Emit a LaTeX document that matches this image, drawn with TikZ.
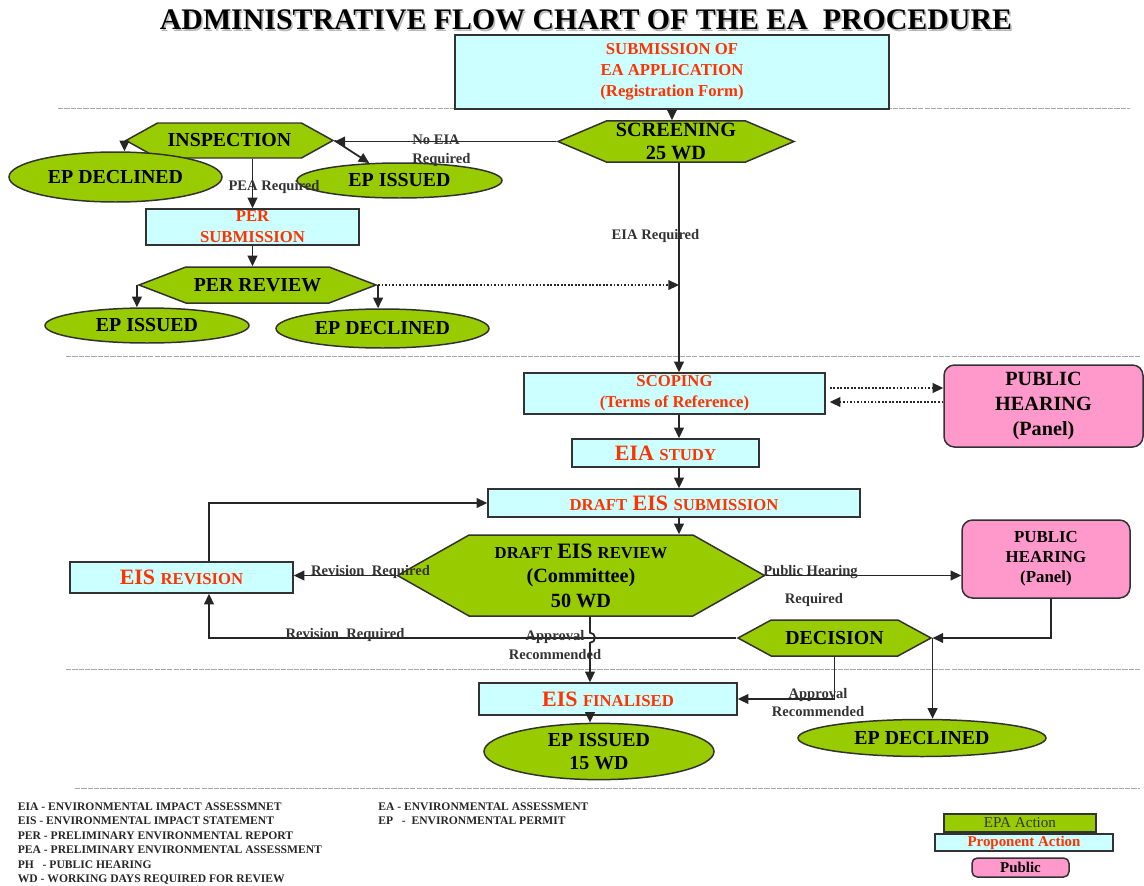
\documentclass[tikz,border=0pt]{standalone}
\usepackage{fontspec}
\setmainfont{Liberation Serif}
\usetikzlibrary{shapes.geometric, shapes.symbols, arrows.meta, calc}

\definecolor{epagreen}{RGB}{153,204,0}
\definecolor{propcyan}{RGB}{204,255,255}
\definecolor{pubpink}{RGB}{255,153,204}
\definecolor{propred}{RGB}{255,51,0}
\definecolor{edgegray}{RGB}{50,50,50}

\newcommand{\fsz}[2]{\fontsize{#1}{#2}\selectfont}
\newcommand{\sml}[1]{{\fontsize{9.5}{11}\selectfont #1}}

\tikzset{
    basebox/.style={draw=edgegray, line width=0.85pt, font=\bfseries\fsz{11.3}{13}, inner sep=1pt, align=center},
    epabox/.style={basebox, fill=epagreen},
    propbox/.style={basebox, fill=propcyan, text=propred, font=\bfseries\fsz{12.5}{14}},
    pubbox/.style={basebox, fill=pubpink, rounded corners=6pt},
    hexa/.style={epabox, shape=signal, signal to=east and west},
    endnode/.style={epabox, ellipse},
    wh/.style 2 args={minimum width=#1*0.02cm, minimum height=#2*0.02cm},
    arr/.style={line width=1pt, draw=black!85, -{Triangle[length=6pt, width=5.5pt]}},
    dotarr/.style={arr, densely dotted},
    lbl/.style={font=\bfseries\fsz{8.3}{10.8}, text=black!80, inner sep=0pt, align=center},
    sep/.style={draw=gray!70, line width=0.5pt, dash pattern=on 3pt off 0.6pt},
    titlefont/.style={font=\bfseries\fsz{17}{20}, inner sep=0pt}
}

\begin{document}
\begin{tikzpicture}[x=0.02cm, y=-0.02cm]
\useasboundingbox (0,0) rectangle (1144,886);

% dashed separators
\draw[sep] (58,108) -- (1130,108);
\draw[sep] (66,356) -- (1140,356);
\draw[sep] (66,669) -- (1140,669);
\draw[sep] (75,788) -- (1140,788);

% title
\node[titlefont, text=gray!55] (titleshadow) at (587.5,21.5) {ADMINISTRATIVE FLOW CHART OF THE EA\ \ PROCEDURE};
\node[titlefont] (title) at (586,20) {ADMINISTRATIVE FLOW CHART OF THE EA\ \ PROCEDURE};

\coordinate (spine) at (679,0);
\coordinate (loop) at (209,0);
\coordinate (appr) at (590,0);

% screening stage
\node[propbox, wh={434}{74}, font=\bfseries\fsz{9.5}{12}] (submit) at (672,72) {SUBMISSION OF\\EA APPLICATION\\(Registration Form)};
\node[hexa, wh={236}{40}, signal pointer angle=46, font=\bfseries\fsz{11.5}{13.6}] (screen) at (676,141.5) {SCREENING\\25 WD};
\node[hexa, wh={207}{35}, signal pointer angle=58] (insp) at (229.5,140.5) {INSPECTION};
\node[endnode, wh={213}{50}] (epdecA) at (115.5,177) {EP DECLINED};
\node[endnode, wh={205}{35}] (epissA) at (399.5,180.5) {EP ISSUED};
\node[propbox, wh={213}{36}, font=\bfseries\fsz{9.5}{12}] (persub) at (252.5,227) {PER\\SUBMISSION};
\node[hexa, wh={237}{36}, signal pointer angle=42] (perrev) at (257.5,285) {PER REVIEW};
\node[endnode, wh={204}{35}] (epissB) at (147,325.5) {EP ISSUED};
\node[endnode, wh={213}{39}] (epdecB) at (382.5,328.5) {EP DECLINED};

% EIA stage
\node[propbox, wh={301}{41}, font=\bfseries\fsz{9.5}{12}] (scoping) at (674.5,393.5) {SCOPING\\(Terms of Reference)};
\node[pubbox, wh={199}{82}, font=\bfseries\fsz{11.5}{14.2}] (phA) at (1043.5,406) {PUBLIC\\HEARING\\(Panel)};
\node[propbox, wh={187}{28}] (eiastudy) at (665.5,453) {EIA \sml{STUDY}};
\node[propbox, wh={372}{28}] (draftsub) at (674,503) {\sml{DRAFT} EIS \sml{SUBMISSION}};
\node[hexa, wh={367}{81}, signal pointer angle=59, font=\bfseries\fsz{11.5}{14}] (draftrev) at (581,575.5) {\sml{DRAFT} {\fsz{12.5}{14}EIS} \sml{REVIEW}\\(Committee)\\50 WD};
\node[propbox, wh={223}{31}] (eisrev) at (181.5,577.5) {EIS \sml{REVISION}};
\node[pubbox, wh={168}{78}, font=\bfseries\fsz{9.6}{11.4}] (phB) at (1046,559) {PUBLIC\\HEARING\\(Panel)};
\node[hexa, wh={193}{36}, signal pointer angle=57] (decision) at (834.5,638) {DECISION};
\node[propbox, wh={258}{32}] (eisfin) at (608,699) {EIS \sml{FINALISED}};
\node[endnode, wh={230}{43}] (epissC) at (599,751.5) {EP ISSUED\\15 WD};
\node[endnode, wh={248}{37}] (epdecC) at (922,738) {EP DECLINED};

% connectors, screening stage
\draw[arr] (submit.south) -- (submit.south |- screen.north);
\draw[arr] (screen.west) -- (screen.west -| insp.east);
\draw[arr] (insp.west) -- (insp.west |- epdecA.north);
\draw[arr] (insp.east) -- (epissA.150);
\draw[arr] (insp.south -| persub.north) -- (persub.north);
\draw[arr] (persub.south) -- (persub.south |- perrev.north);
\draw[arr] (perrev.west) -- (perrev.west |- epissB.north);
\draw[arr] (perrev.east) -- (perrev.east |- epdecB.north);
\draw[dotarr] (perrev.east) -- (perrev.east -| spine);

% connectors, EIA stage
\draw[arr] (screen.south -| spine) -- (scoping.north -| spine);
\draw[dotarr] ($(scoping.east)+(4,-5.5)$) -- ($(scoping.east -| phA.west)+(0,-5.5)$);
\draw[dotarr] ($(scoping.east -| phA.west)+(0,8.5)$) -- ($(scoping.east)+(4,8.5)$);
\draw[arr] (scoping.south -| spine) -- (eiastudy.north -| spine);
\draw[arr] (eiastudy.south -| spine) -- (draftsub.north -| spine);
\draw[arr] (draftsub.south -| spine) -- (draftrev.north -| spine);
\draw[arr] (draftrev.west) -- (draftrev.west -| eisrev.east);
\draw[arr] (eisrev.north -| loop) |- (draftsub.west);
\draw[arr] (decision.west) -| (eisrev.south -| loop);
\draw[arr] (draftrev.south -| appr) -- ++(0,16) arc[start angle=-90, end angle=90, radius=5] -- (eisfin.north -| appr);
\draw[arr] (draftrev.east) -- (draftrev.east -| phB.west);
\draw[arr] ($(phB.south)+(5,0)$) |- (decision.east);
\draw[arr] (decision.east) -- (decision.east |- epdecC.north);
\draw[arr] (decision.south) |- (eisfin.east);
\draw[arr] (eisfin.south -| appr) -- (epissC.north -| appr);

% connector labels
\node[lbl, align=left, anchor=west] (lblnoeia) at (412,150.5) {No EIA\\Required};
\node[lbl] (lblpea) at (274,187) {PEA Required};
\node[lbl] (lbleia) at (655.5,236) {EIA Required};
\node[lbl] (lblrevA) at (370.5,572) {Revision\ \ Required};
\node[lbl] (lblrevB) at (345,635) {Revision\ \ Required};
\node[lbl] (lblapprA) at (555,645) {Approval\\Recommended};
\node[lbl] (lblpub) at (810.5,572) {Public Hearing};
\node[lbl] (lblreq) at (814,600) {Required};
\node[lbl] (lblapprB) at (818,702.5) {Approval\\Recommended};

% abbreviations
\node[anchor=north west, align=left, inner sep=0pt, text=black!85, font=\bfseries\fsz{6.6}{8.3}] (abbrA) at (17.5,802) {EIA - ENVIRONMENTAL IMPACT ASSESSMNET\\EIS - ENVIRONMENTAL IMPACT STATEMENT\\PER - PRELIMINARY ENVIRONMENTAL REPORT\\PEA - PRELIMINARY ENVIRONMENTAL ASSESSMENT\\PH\ \ \ - PUBLIC HEARING\\WD - WORKING DAYS REQUIRED FOR REVIEW};
\node[anchor=north west, align=left, inner sep=0pt, text=black!85, font=\bfseries\fsz{6.6}{8.3}] (abbrB) at (378,802) {EA - ENVIRONMENTAL ASSESSMENT\\EP\ \ \ - \ ENVIRONMENTAL PERMIT};

% key
\node[epabox, wh={152}{18}, font=\fsz{8.6}{10}, text=black!80] (keyepa) at (1020,823) {EPA Action};
\node[propbox, wh={178}{15}, font=\bfseries\fsz{8.5}{10}] (keyprop) at (1024,842.5) {Proponent Action};
\node[pubbox, rounded corners=3pt, wh={97}{19}, font=\bfseries\fsz{8.5}{10}] (keypub) at (1020.5,867.5) {Public};
\end{tikzpicture}
\end{document}
